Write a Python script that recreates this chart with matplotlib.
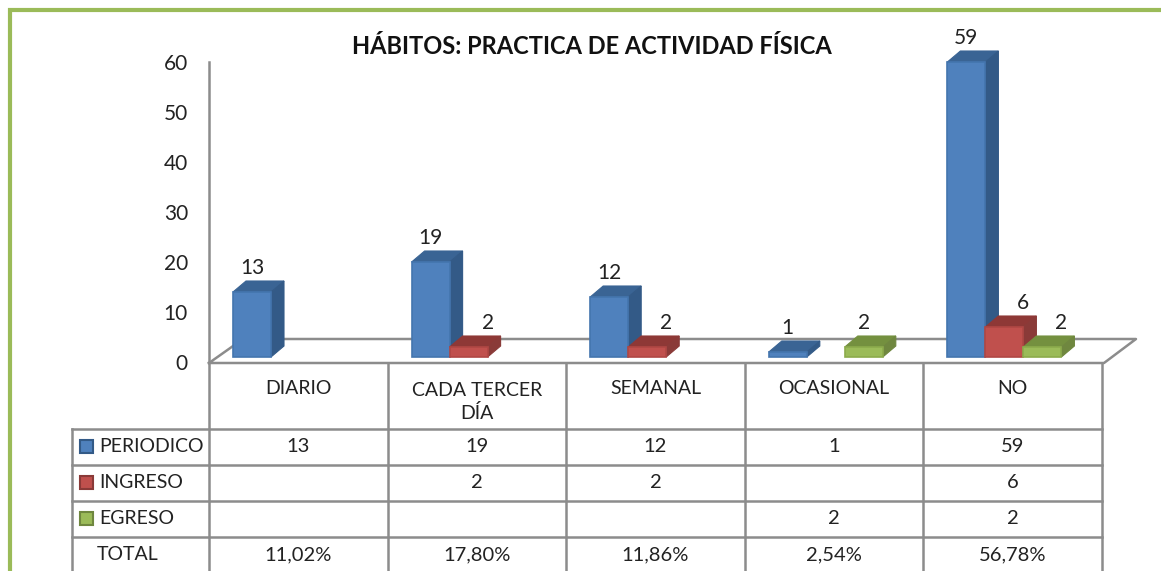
import matplotlib
matplotlib.use('Agg')
import matplotlib.pyplot as plt
from matplotlib.patches import Polygon, Rectangle

plt.rcParams['font.family'] = ['Lato', 'DejaVu Sans']

categories = ['DIARIO', 'CADA TERCER\nDÍA', 'SEMANAL', 'OCASIONAL', 'NO']
periodico = [13, 19, 12, 1, 59]
ingreso = [None, 2, 2, None, 6]
egreso = [None, None, None, 2, 2]
total = ['11,02%', '17,80%', '11,86%', '2,54%', '56,78%']
y_ticks = [0, 10, 20, 30, 40, 50, 60]

W, H = 1161, 571
GREY = '#8c8c8c'
TEXT = '#222222'

series = [
    ('PERIODICO', periodico, '#4f81bd', '#3a6494', '#335a87', '#4475ae'),
    ('INGRESO', ingreso, '#c0504d', '#8e3836', '#8a3a38', '#b04744'),
    ('EGRESO', egreso, '#9bbb59', '#74903f', '#6f873f', '#8cab4c'),
]

fig = plt.figure(figsize=(W / 100, H / 100), dpi=100)

# background layer in pixels: frame, floor and table grid
bg = fig.add_axes([0, 0, 1, 1])
bg.set_xlim(0, W)
bg.set_ylim(H, 0)
bg.axis('off')

bg.plot([9.5, 9.5, W], [H, 10, 10], color='#9bbb59', lw=3, solid_joinstyle='miter')

col_x = [209 + i * 178.6 for i in range(6)]
row_y = [429, 465, 501, 537, 573]

# floor of the 3d chart
bg.plot([209, 243, 1136, 1104, 209], [363, 339, 339, 363, 363], color=GREY, lw=1.8)
bg.plot([209, 209], [62, H], color=GREY, lw=1.8)
for x in col_x[1:]:
    bg.plot([x, x], [363, H], color=GREY, lw=1.8)
bg.plot([72, 72], [429, H], color=GREY, lw=1.8)
for y in row_y[:-1]:
    bg.plot([72, col_x[-1]], [y, y], color=GREY, lw=1.8)

for v in y_ticks:
    bg.text(188, 364.5 - v * 5, str(v), ha='right', va='center', fontsize=15, color=TEXT)

bg.text(592, 46, 'HÁBITOS: PRACTICA DE ACTIVIDAD FÍSICA', ha='center', va='center',
        fontsize=17, fontweight='bold', color='#111111')

# category row
for i, c in enumerate(categories):
    cx = (col_x[i] + col_x[i + 1]) / 2
    bg.text(cx, 402 if '\n' in c else 389, c, ha='center', va='center', fontsize=14,
            color=TEXT, linespacing=1.35)

# series rows with legend keys
for r, (name, values, face, top, side, edge) in enumerate(series):
    cy = (row_y[r] + row_y[r + 1]) / 2 - 1
    bg.add_patch(Rectangle((80, cy - 6.5), 13, 13, facecolor=face, edgecolor=side, lw=1.5))
    bg.text(99, cy, name, ha='left', va='center', fontsize=14, color=TEXT)
    for i, v in enumerate(values):
        if v is not None:
            cx = (col_x[i] + col_x[i + 1]) / 2
            bg.text(cx, cy + 1, str(v), ha='center', va='center', fontsize=14.5, color=TEXT)

bg.text(97, 554, 'TOTAL', ha='left', va='center', fontsize=14, color=TEXT)
for i, t in enumerate(total):
    cx = (col_x[i] + col_x[i + 1]) / 2
    bg.text(cx, 555, t, ha='center', va='center', fontsize=14.5, color=TEXT)

# bars: axes x runs over the categories, y over the values
ax = fig.add_axes([209 / W, 1 - 357 / H, (col_x[-1] - 209) / W, 300 / H])
ax.set_xlim(0, 5)
ax.set_ylim(0, 60)
ax.axis('off')
ax.patch.set_alpha(0)

bar_w = 38 / 178.6
dx = 13 / 178.6
dy = 11 / 5
first = 24 / 178.6

for s, (name, values, face, top, side, edge) in enumerate(series):
    for i, v in enumerate(values):
        if v is None:
            continue
        x0 = i + first + s * bar_w
        x1 = x0 + bar_w
        ax.add_patch(Polygon([(x0, v), (x1, v), (x1 + dx, v + dy), (x0 + dx, v + dy)],
                             facecolor=top, edgecolor=top, lw=0.8, clip_on=False, zorder=2 + s))
        ax.add_patch(Polygon([(x1, 0), (x1 + dx, dy), (x1 + dx, v + dy), (x1, v)],
                             facecolor=side, edgecolor=side, lw=0.8, clip_on=False, zorder=2 + s))
        ax.bar(x0, v, width=bar_w, align='edge', color=face, edgecolor=edge, lw=1.2,
               clip_on=False, zorder=3 + s)
        # data labels; small bars next to a neighbour get pushed right
        shifted = s > 0 and periodico[i] > 1
        lx = (x0 + x1) / 2 + (19 / 178.6 if shifted else 0)
        ax.annotate(str(v), (lx, v), xytext=(0, 24 * 0.72), textcoords='offset points',
                    ha='center', va='center', fontsize=15, color=TEXT, annotation_clip=False,
                    zorder=10)

fig.savefig('out.png', dpi=100)
